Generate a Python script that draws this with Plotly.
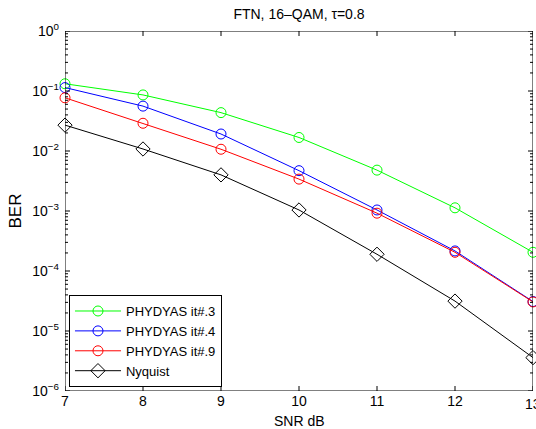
import plotly.graph_objects as go

snr = [7, 8, 9, 10, 11, 12, 13]
ber_it3 = [0.132, 0.086, 0.0436, 0.0168, 0.0048, 0.00113, 0.000205]
ber_it4 = [0.114, 0.056, 0.0192, 0.0047, 0.00104, 0.000216, 3.1e-5]
ber_it9 = [0.077, 0.029, 0.0107, 0.0034, 0.00092, 0.000205, 3.05e-5]
ber_nyq = [0.027, 0.0108, 0.0040, 0.00104, 0.00019, 3.15e-5, 3.6e-6]

names = ["PHYDYAS it#.3", "PHYDYAS it#.4", "PHYDYAS it#.9", "Nyquist"]
colors = ["#00FF00", "#0000FF", "#FF0000", "#000000"]
symbols = ["circle-open", "circle-open", "circle-open", "diamond-open"]
series = [ber_it3, ber_it4, ber_it9, ber_nyq]

ytickvals = [1e-6, 1e-5, 1e-4, 1e-3, 1e-2, 1e-1, 1]
yticktext = ["10<sup>−6</sup>", "10<sup>−5</sup>", "10<sup>−4</sup>", "10<sup>−3</sup>",
             "10<sup>−2</sup>", "10<sup>−1</sup>", "10<sup>0</sup>"]
yminorvals = [m * 10.0 ** k for k in range(-6, 0) for m in range(2, 10)]

fig = go.Figure()
for name, col, sym, ys in zip(names, colors, symbols, series):
    fig.add_trace(go.Scatter(
        x=snr, y=ys, name=name, mode="lines+markers",
        line=dict(color=col, width=1),
        marker=dict(symbol=sym, size=10 if sym.startswith("circle") else 11,
                    color=col, line=dict(color=col, width=1)),
        cliponaxis=False,
    ))

# axes frame and inside ticks, derived from the axis ranges / tick arrays
W, H = 468.0, 360.0
x_lo, x_hi = snr[0], snr[-1]
y_lo, y_hi = ytickvals[0], ytickvals[-1]
dx = (x_hi - x_lo) / W            # data units per pixel (x)
dy_dec = 6.0 / H                  # decades per pixel (y)
fx = [x_lo, x_hi, x_hi, x_lo, x_lo, None]
fy = [y_lo, y_lo, y_hi, y_hi, y_lo, None]
for v in snr:
    fx += [v, v, None, v, v, None]
    fy += [y_lo, y_lo * 10 ** (5 * dy_dec), None, y_hi, y_hi / 10 ** (5 * dy_dec), None]
for vals, ln in [(ytickvals, 5), (yminorvals, 3)]:
    for v in vals:
        fx += [x_lo, x_lo + ln * dx, None, x_hi, x_hi - ln * dx, None]
        fy += [v, v, None, v, v, None]
fig.add_trace(go.Scatter(x=fx, y=fy, mode="lines", line=dict(color="black", width=1),
                         showlegend=False, hoverinfo="skip", cliponaxis=False,
                         connectgaps=False))

font = "Liberation Sans, Arial, Helvetica, sans-serif"
fig.update_layout(
    template="none",
    width=536, height=429, autosize=False,
    margin=dict(l=65, r=3, t=31, b=38, autoexpand=False),
    paper_bgcolor="white", plot_bgcolor="white",
    font=dict(family=font, size=14, color="black"),
    title=dict(text="FTN, 16–QAM, τ=0.8", x=0.5, xanchor="center",
               xref="paper", y=1 - 14 / 429, yanchor="middle",
               font=dict(size=14)),
    showlegend=True,
    legend=dict(x=0.0085, y=0.011, xanchor="left", yanchor="bottom",
                bgcolor="white", bordercolor="black", borderwidth=1,
                font=dict(size=13), itemwidth=46, tracegroupgap=0),
    annotations=[
        dict(text=str(snr[-1]), x=snr[-1], xref="x", y=0, yref="paper",
             yanchor="top", yshift=-3, showarrow=False, font=dict(size=14)),
        dict(text="SNR dB", x=0.5, xref="paper", y=0, yref="paper",
             yanchor="middle", yshift=-30, showarrow=False, font=dict(size=14)),
    ],
)
fig.update_xaxes(
    range=[7, 13], tickvals=snr, ticks="", showline=False,
    showgrid=False, zeroline=False, automargin=False,
)
fig.update_yaxes(
    type="log", range=[-6, 0], tickvals=ytickvals, ticktext=yticktext,
    ticks="", showline=False,
    showgrid=False, zeroline=False, automargin=False,
    ticklabelstandoff=5,
    title=dict(text="BER"),
)
fig.write_html("out.html", config={"displayModeBar": False},
               post_script="document.body.style.margin='0';document.body.style.overflow='hidden';")
